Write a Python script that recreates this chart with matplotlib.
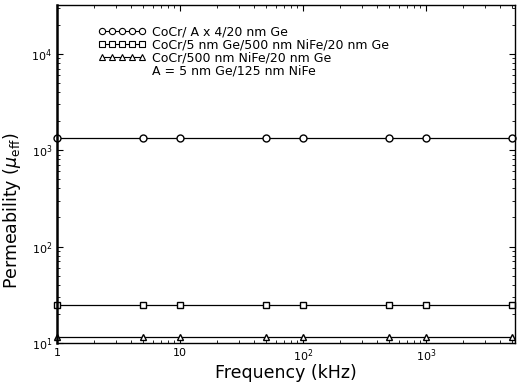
import matplotlib
matplotlib.use('Agg')
import matplotlib.pyplot as plt
from matplotlib.lines import Line2D

plt.rcParams['font.family'] = ['DejaVu Sans']
plt.rcParams['mathtext.default'] = 'regular'

# data
freq = [1, 5, 10, 50, 100, 500, 1000, 5000]          # kHz
mu_ge = [1350, 1350, 1350, 1350, 1350, 1350, 1350, 1350]
mu_nife = [25, 25, 25, 25, 25, 25, 25, 25]
mu_500 = [11.5, 11.5, 11.5, 11.5, 11.5, 11.5, 11.5, 11.5]

labels = ['CoCr/ A x 4/20 nm Ge',
          'CoCr/5 nm Ge/500 nm NiFe/20 nm Ge',
          'CoCr/500 nm NiFe/20 nm Ge',
          'A = 5 nm Ge/125 nm NiFe']

xticks = [1, 10, 100, 1000]
xticklabels = ['1', '10', r'10$^{2}$', r'10$^{3}$']
yticks = [10, 100, 1000, 10000]
yticklabels = [r'10$^{1}$', r'10$^{2}$', r'10$^{3}$', r'10$^{4}$']

fig = plt.figure(figsize=(5.25, 3.84), dpi=100)
ax = fig.add_axes([0.1086, 0.107, 0.8724, 0.88])

mk = dict(color='black', lw=0.9, markersize=5, markerfacecolor='white',
          markeredgewidth=1.0, clip_on=False)
ax.plot(freq, mu_ge, marker='o', **mk)
ax.plot(freq, mu_nife, marker='s', **mk)
ax.plot(freq, mu_500, marker='^', **mk)

ax.set_xscale('log')
ax.set_yscale('log')
ax.set_xlim(1, 5300)
ax.set_ylim(10, 32000)
ax.set_xticks(xticks)
ax.set_xticklabels(xticklabels, fontsize=8)
ax.set_yticks(yticks)
ax.set_yticklabels(yticklabels, fontsize=8)
ax.tick_params(which='both', direction='in', top=True, right=True)
ax.tick_params(which='major', length=4)
ax.tick_params(which='minor', length=2.5)
for s in ax.spines.values():
    s.set_linewidth(1.0)
ax.spines['left'].set_linewidth(1.8)

ax.set_xlabel('Frequency (kHz)', fontsize=12.5, labelpad=0)
ax.set_ylabel(r'Permeability ($\mathit{\mu}_{eff}$)', fontsize=12.5)
ax.yaxis.set_label_coords(-0.075, 0.39)

# legend with runs of five small markers
hs = [Line2D([], [], color='black', lw=0.8, marker=m, markersize=4.5,
             markerfacecolor='white', markeredgewidth=0.8)
      for m in ['o', 's', '^']]
hs.append(Line2D([], [], lw=0))
ax.legend(hs, labels, loc='upper left', bbox_to_anchor=(0.09, 0.94),
          frameon=False, numpoints=5, handlelength=3.8, handletextpad=0.5,
          labelspacing=0.0, borderpad=0, borderaxespad=0, fontsize=9)

fig.savefig('out.png', dpi=100)
